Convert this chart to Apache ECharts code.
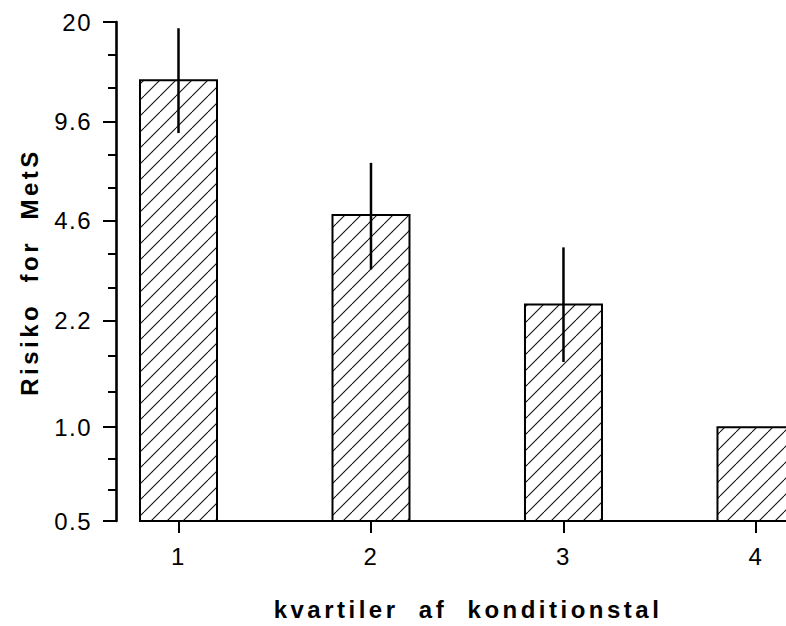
<!DOCTYPE html>
<html>
<head>
<meta charset="utf-8">
<script src="https://cdn.jsdelivr.net/npm/echarts@6/dist/echarts.min.js"></script>
<style>
html,body{margin:0;padding:0;background:#fff;}
#chart{width:786px;height:626px;}
#chart text{letter-spacing:1.5px;}
#chart text[style*="bold"]{letter-spacing:3.5px;}
</style>
</head>
<body>
<div id="chart"></div>
<script>
// ---- data ----
const categories = [1, 2, 3, 4];
const categoryLabels = ['1', '2', '3', '4'];
const riskValues = [13.0, 4.8, 2.48, 1.0];
const ciLower = [8.8, 3.21, 1.62, null];
const ciUpper = [19.1, 7.06, 3.78, null];
const yTickValues = [0.5, 1.0, 2.2, 4.6, 9.6, 20];
const yTickLabels = ['0.5', '1.0', '2.2', '4.6', '9.6', '20'];
const xTitle = 'kvartiler  af  konditionstal';
const yTitle = 'Risiko  for  MetS';

// ---- derived ----
const yMin = yTickValues[0], yMax = yTickValues[yTickValues.length - 1];
const minorTickValues = [];
for (let i = 0; i < yTickValues.length - 1; i++) {
  const a = yTickValues[i], b = yTickValues[i + 1];
  minorTickValues.push(a * Math.pow(b / a, 1 / 3), a * Math.pow(b / a, 2 / 3));
}
const barData = categories.map((c, i) => [c, riskValues[i]]);
const errData = categories.map((c, i) => [c, ciLower[i], ciUpper[i]]).filter(d => d[1] != null);

function labelFor(v, values, labels) {
  for (let i = 0; i < values.length; i++) {
    if (Math.abs(v - values[i]) <= Math.abs(values[i]) * 1e-4) return labels[i];
  }
  return '';
}

// hatch pattern
const TILE = 16;
const pc = document.createElement('canvas');
pc.width = TILE; pc.height = TILE;
const g = pc.getContext('2d');
g.fillStyle = '#fff'; g.fillRect(0, 0, TILE, TILE);
g.strokeStyle = '#111'; g.lineWidth = 1.1;
for (const off of [-TILE, 0, TILE]) {
  g.beginPath(); g.moveTo(off, TILE); g.lineTo(off + TILE, 0); g.stroke();
}
const hatch = { image: pc, repeat: 'repeat' };

const BAR_FRAC = 0.4;
const FONT = 'Liberation Sans';

const chart = echarts.init(document.getElementById('chart'), null, { renderer: 'svg' });
chart.setOption({
  animation: false,
  backgroundColor: '#fff',
  grid: { left: 140, right: 0, top: 22, bottom: 105, containLabel: false, outerBoundsMode: 'none' },
  xAxis: {
    type: 'value', min: 0.8, max: 4.156,
    axisLine: { show: true, onZero: false, lineStyle: { color: '#000', width: 2 } },
    axisTick: { show: true, customValues: categories, length: 12, lineStyle: { color: '#000', width: 2 } },
    axisLabel: { customValues: categories, formatter: v => labelFor(v, categories, categoryLabels),
      color: '#000', fontSize: 24, fontFamily: FONT, margin: 23 },
    splitLine: { show: false }
  },
  yAxis: [{
    type: 'log', min: yMin, max: yMax, position: 'left', offset: 24,
    axisLine: { show: true, lineStyle: { color: '#000', width: 2.6 } },
    axisTick: { show: true, customValues: yTickValues, length: 13, lineStyle: { color: '#000', width: 2 } },
    axisLabel: { customValues: yTickValues, formatter: v => labelFor(v, yTickValues, yTickLabels),
      color: '#000', fontSize: 24, fontFamily: FONT, margin: 24 },
    splitLine: { show: false }, minorTick: { show: false }
  }, {
    type: 'log', min: yMin, max: yMax, position: 'left', offset: 24,
    axisLine: { show: false },
    axisTick: { show: true, customValues: minorTickValues, length: 8, lineStyle: { color: '#000', width: 2 } },
    axisLabel: { show: false },
    splitLine: { show: false }
  }],
  series: [{
    type: 'custom',
    xAxisIndex: 0, yAxisIndex: 0,
    data: barData,
    renderItem: function (params, api) {
      const x = api.value(0), v = api.value(1);
      const top = api.coord([x, v]);
      const base = api.coord([x, yMin]);
      const w = api.size([BAR_FRAC, 1])[0];
      return {
        type: 'rect',
        shape: { x: top[0] - w / 2, y: top[1], width: w, height: base[1] - top[1] },
        style: { fill: hatch, stroke: '#000', lineWidth: 2 }
      };
    }
  }, {
    type: 'custom',
    xAxisIndex: 0, yAxisIndex: 0,
    data: errData,
    z: 5,
    renderItem: function (params, api) {
      const x = api.value(0);
      const lo = api.coord([x, api.value(1)]);
      const hi = api.coord([x, api.value(2)]);
      return {
        type: 'line',
        shape: { x1: lo[0], y1: lo[1], x2: hi[0], y2: hi[1] },
        style: { stroke: '#000', lineWidth: 2.5 }
      };
    }
  }],
  graphic: [{
    type: 'text', x: 468, y: 609,
    style: { text: xTitle, fontSize: 24, fontWeight: 'bold', fontFamily: FONT, fill: '#000', align: 'center', verticalAlign: 'middle' }
  }, {
    type: 'text', x: 29, y: 272, rotation: Math.PI / 2,
    style: { text: yTitle, fontSize: 24, fontWeight: 'bold', fontFamily: FONT, fill: '#000', align: 'center', verticalAlign: 'middle' }
  }]
});
</script>
</body>
</html>
